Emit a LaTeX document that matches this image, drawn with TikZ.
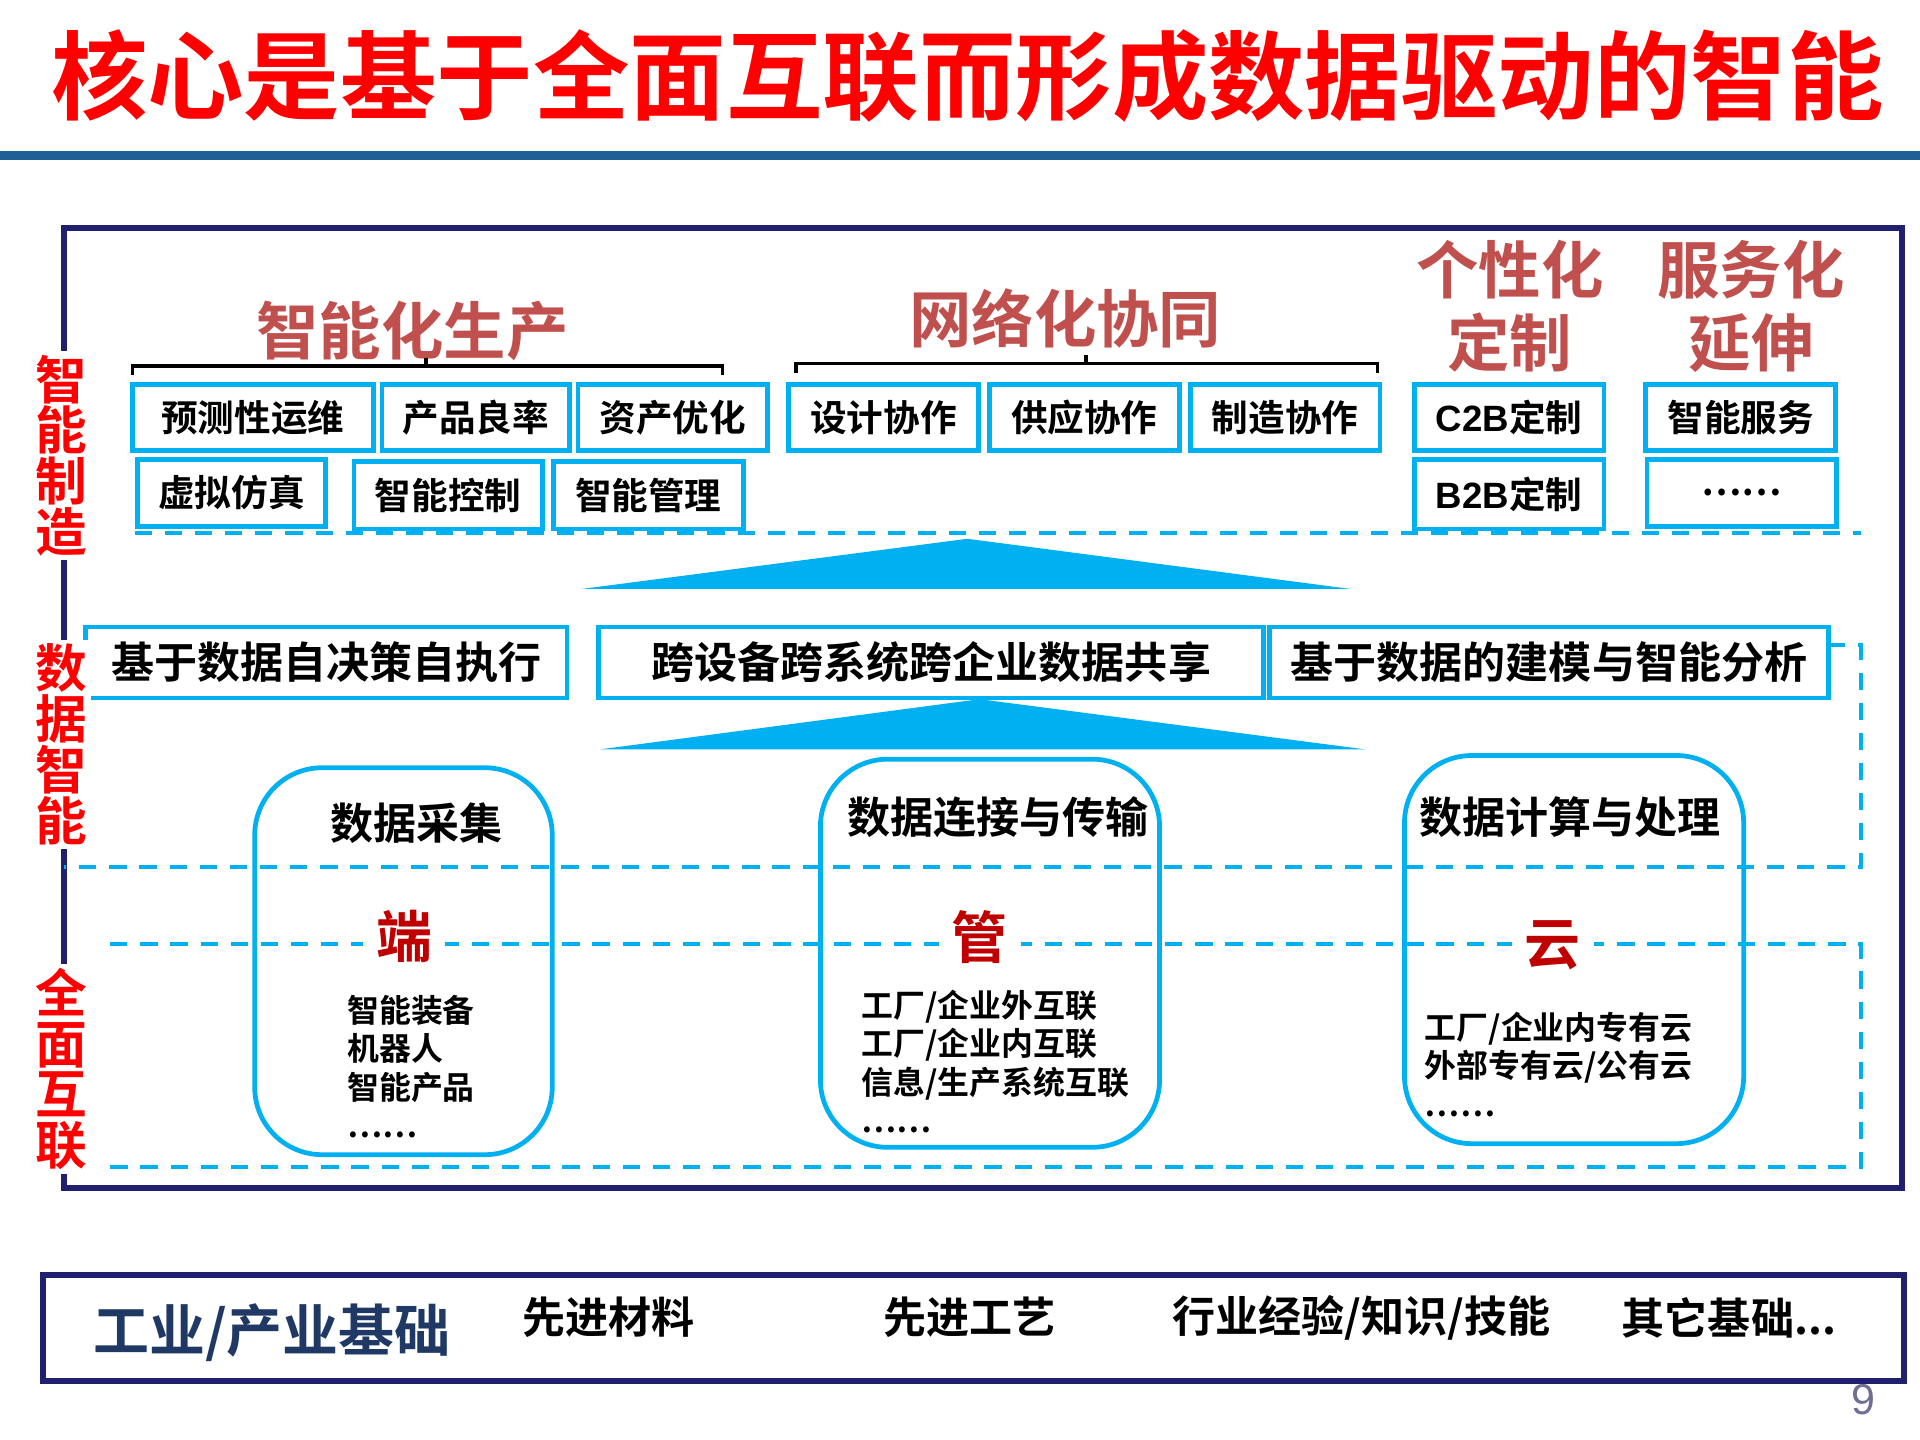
\documentclass[tikz,border=0pt]{standalone}
\usepackage{fontspec}
\setmainfont{Noto Sans CJK SC}[BoldFont={Noto Sans CJK SC Bold}]
\newfontfamily\lat{Liberation Sans}
\definecolor{cy}{RGB}{0,176,240}
\definecolor{hd}{RGB}{192,80,77}
\definecolor{dr}{RGB}{192,0,0}
\definecolor{nv}{RGB}{32,32,110}
\definecolor{tn}{RGB}{31,56,100}
\tikzset{
 sq/.style={draw=cy,line width=1.1pt,fill=white,inner sep=0pt},
 lab/.style={font=\bfseries\fontsize{8.5pt}{10pt}\selectfont},
 dl/.style={draw=cy,dashed,line width=0.9pt,dash pattern=on 4pt off 3pt},
 rb/.style={draw=cy,line width=1.1pt,rounded corners=0.55cm},
 hdr/.style={text=hd,font=\bfseries\fontsize{14.5pt}{17pt}\selectfont,align=center},
 vl/.style={text=red,fill=white,font=\bfseries\fontsize{12pt}{11.8pt}\selectfont,align=center,inner sep=1pt},
 lst/.style={font=\bfseries\fontsize{7.4pt}{8.9pt}\selectfont,align=left,anchor=north west,inner sep=0pt},
 bt/.style={font=\bfseries\fontsize{10pt}{12pt}\selectfont},
}
\begin{document}
\begin{tikzpicture}[x=0.01cm,y=-0.01cm]
\useasboundingbox (0,0) rectangle (1568,1176);
\node[text=red,font=\bfseries\fontsize{22.4pt}{25pt}\selectfont] (title) at (790,62) {核心是基于全面互联而形成数据驱动的智能};
\draw[line width=2pt,color={rgb,255:red,31;green,95;blue,150}] (0,127) coordinate (l1) -- (1568,127) coordinate (l2);
\draw[nv,line width=1.4pt] (52,186) rectangle (1553,970);
% dashed frames
\draw[dl] (110,435) -- (1520,435);
\draw[dl] (1493,527) -- (1520,527) -- (1520,708) -- (52,708);
\draw[dl] (90,771) -- (1520,771) -- (1520,953) -- (90,953);
% headers
\node[hdr] (h1) at (337,270) {智能化生产};
\node[hdr] (h2) at (870,260) {网络化协同};
\node[hdr] (h3) at (1233,250) {个性化\\定制};
\node[hdr] (h4) at (1430,250) {服务化\\延伸};
\draw[line width=0.8pt] (108,306) -- (108,299) -- (590,299) -- (590,306) (348,299) -- (348,292);
\draw[line width=0.8pt] (650,305) -- (650,297) -- (1125,297) -- (1125,305) (887,297) -- (887,290);
% boxes
\foreach \a/\b/\c/\d/\t/\n in {108/314/305/368/预测性运维/b1,312/314/465/368/产品良率/b2,472/314/627/368/资产优化/b3,644/314/799/368/设计协作/b4,808/314/963/368/供应协作/b5,972/314/1127/368/制造协作/b6,1155/314/1310/368/{\lat C2B}定制/b7,1344/314/1499/368/智能服务/b8,112/375/266/430/虚拟仿真/b9,289/377/443/432/智能控制/b10,452/377/607/432/智能管理/b11,1155/375/1310/432/{\lat B2B}定制/b12,1345/375/1500/430/……/b13}
 {\draw[sq] (\a,\b) rectangle (\c,\d); \node[lab] (\n) at ({(\a+\c)/2},{(\b+\d)/2}) {\t};}
\fill[cy] (475,481) -- (790,440) -- (1103,481) -- cycle;
\foreach \a/\c/\t/\n in {70/463/基于数据自决策自执行/m1,489/1032/跨设备跨系统跨企业数据共享/m2,1037/1493/基于数据的建模与智能分析/m3}
 {\draw[sq] (\a,512) rectangle (\c,570); \node[bt] (\n) at ({(\a+\c)/2},541) {\t};}
\fill[cy] (490,612) -- (800,571) -- (1115,612) -- cycle;
% rounded boxes
\draw[rb] (208,627) rectangle (451,943);
\draw[rb] (670,620) rectangle (947,937);
\draw[rb] (1147,617) rectangle (1424,934);
\node[bt] (t1) at (340,672) {数据采集};
\node[bt] (t2) at (815,667) {数据连接与传输};
\node[bt] (t3) at (1282,667) {数据计算与处理};
\foreach \x/\y/\t/\n in {330/765/端/k1,800/765/管/k2,1268/772/云/k3}
 \node[fill=white,text=dr,font=\bfseries\fontsize{13pt}{14pt}\selectfont,inner sep=3pt] (\n) at (\x,\y) {\t};
\node[lst] (s1) at (283,812) {智能装备\\机器人\\智能产品\\……};
\node[lst] (s2) at (703,808) {工厂/企业外互联\\工厂/企业内互联\\信息/生产系统互联\\……};
\node[lst] (s3) at (1163,826) {工厂/企业内专有云\\外部专有云/公有云\\……};
% left labels
\node[vl] (v1) at (50,372) {智\\能\\制\\造};
\node[vl] (v2) at (50,608) {数\\据\\智\\能};
\node[vl] (v3) at (50,873) {全\\面\\互\\联};
% bottom
\draw[nv,line width=1.4pt] (35,1041) rectangle (1555,1128);
\node[text=tn,font=\bfseries\fontsize{13pt}{15pt}\selectfont] (f0) at (222,1088) {工业/产业基础};
\node[bt] (f1) at (497,1076) {先进材料};
\node[bt] (f2) at (792,1076) {先进工艺};
\node[bt] (f3) at (1112,1076) {行业经验/知识/技能};
\node[bt] (f4) at (1412,1076) {其它基础...};
\node[text={rgb,255:red,110;green,110;blue,150},font=\lat\fontsize{10pt}{12pt}\selectfont] (pg) at (1522,1143) {9};
\end{tikzpicture}
\end{document}
